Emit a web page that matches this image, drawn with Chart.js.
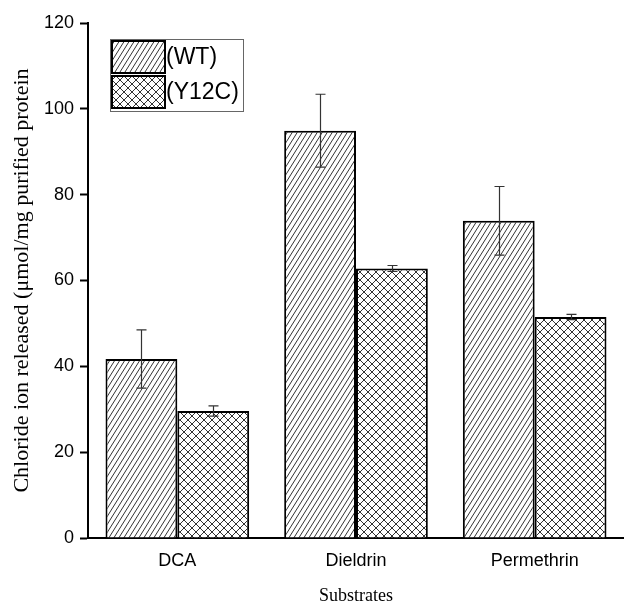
<!DOCTYPE html>
<html lang="en">
<head>
  <meta charset="UTF-8">
  <title>Chloride ion released</title>
  <script src="https://cdn.jsdelivr.net/npm/chart.js"></script>
  <style>
    html, body { margin: 0; padding: 0; background: #fff; }
    #wrap { width: 624px; height: 607px; }
  </style>
</head>
<body>
  <div id="wrap"><canvas id="chart" width="624" height="607"></canvas></div>

  <script>
    const substrates = ["DCA", "Dieldrin", "Permethrin"];
    const seriesNames = ["(WT)", "(Y12C)"];
    const wtValues = [41.7, 94.9, 73.9];
    const wtErrors = [6.8, 8.5, 8.0];
    const y12cValues = [29.6, 62.8, 51.5];
    const y12cErrors = [1.2, 0.7, 0.6];
    const yTicks = [0, 20, 40, 60, 80, 100, 120];

    const sans = "Arial, 'Liberation Sans', sans-serif";
    const serif = "'Times New Roman', 'Liberation Serif', serif";

    // hatch fills
    function diagonalPattern() {
      const c = document.createElement("canvas");
      const w = 5, h = 8;
      c.width = w; c.height = h;
      const g = c.getContext("2d");
      g.fillStyle = "#fff";
      g.fillRect(0, 0, w, h);
      g.strokeStyle = "#333";
      g.lineWidth = 1;
      for (const dx of [-w, 0, w]) {
        g.beginPath();
        g.moveTo(dx, h);
        g.lineTo(dx + w, 0);
        g.stroke();
      }
      return g.createPattern(c, "repeat");
    }

    function crossPattern() {
      const c = document.createElement("canvas");
      const s = 8;
      c.width = s; c.height = s;
      const g = c.getContext("2d");
      g.fillStyle = "#fff";
      g.fillRect(0, 0, s, s);
      g.strokeStyle = "#333";
      g.lineWidth = 1;
      for (const dx of [-s, 0, s]) {
        g.beginPath();
        g.moveTo(dx, s); g.lineTo(dx + s, 0);
        g.moveTo(dx, 0); g.lineTo(dx + s, s);
        g.stroke();
      }
      return g.createPattern(c, "repeat");
    }

    const ctx = document.getElementById("chart").getContext("2d");
    const fills = [diagonalPattern(), crossPattern()];
    const errors = [wtErrors, y12cErrors];

    const errorBars = {
      id: "errorBars",
      afterDatasetsDraw(chart) {
        const g = chart.ctx;
        const y = chart.scales.y;
        g.save();
        g.strokeStyle = "#333";
        g.lineWidth = 1.2;
        chart.data.datasets.forEach((ds, i) => {
          chart.getDatasetMeta(i).data.forEach((bar, j) => {
            const v = ds.data[j], e = errors[i][j];
            const x = Math.round(bar.x) + 0.5;
            const top = y.getPixelForValue(v + e);
            const bot = y.getPixelForValue(v - e);
            g.beginPath();
            g.moveTo(x, top); g.lineTo(x, bot);
            g.moveTo(x - 5, top); g.lineTo(x + 5, top);
            g.moveTo(x - 5, bot); g.lineTo(x + 5, bot);
            g.stroke();
          });
        });
        g.restore();
      }
    };

    const boxLegend = {
      id: "boxLegend",
      afterDraw(chart) {
        const g = chart.ctx;
        g.save();
        g.strokeStyle = "#666";
        g.lineWidth = 1;
        g.strokeRect(110.5, 39.5, 133, 72);
        g.font = "23px " + sans;
        g.textBaseline = "middle";
        chart.data.datasets.forEach((ds, i) => {
          const top = 41 + i * 35;
          g.fillStyle = ds.backgroundColor;
          g.fillRect(112, top, 53, 32);
          g.strokeStyle = "#000";
          g.lineWidth = 2;
          g.strokeRect(112, top, 53, 32);
          g.fillStyle = "#000";
          g.fillText(ds.label, 166, top + 17);
        });
        g.restore();
      }
    };

    new Chart(ctx, {
      type: "bar",
      data: {
        labels: substrates,
        datasets: [
          { label: seriesNames[0], data: wtValues, backgroundColor: fills[0] },
          { label: seriesNames[1], data: y12cValues, backgroundColor: fills[1] }
        ]
      },
      options: {
        responsive: false,
        animation: false,
        layout: { padding: { top: 23, right: 0, left: 0, bottom: 0 } },
        datasets: {
          bar: {
            borderColor: "#000",
            borderWidth: 2,
            categoryPercentage: 0.804,
            barPercentage: 1.0
          }
        },
        plugins: {
          legend: { display: false },
          tooltip: { enabled: false }
        },
        scales: {
          x: {
            grid: { display: false, drawTicks: false },
            border: { color: "#000", width: 2 },
            ticks: {
              color: "#000",
              padding: 12,
              font: { family: sans, size: 18 }
            },
            title: {
              display: true,
              text: "Substrates",
              color: "#000",
              padding: { top: 0, bottom: 0 },
              font: { family: serif, size: 18 }
            },
            afterFit(scale) { scale.height = 69; }
          },
          y: {
            min: 0,
            max: 120,
            afterBuildTicks(scale) { scale.ticks = yTicks.map(v => ({ value: v })); },
            grid: { drawOnChartArea: false, tickLength: 8, tickWidth: 2, color: "#000" },
            border: { color: "#000", width: 2 },
            ticks: {
              color: "#000",
              padding: 6,
              font: { family: sans, size: 18 }
            },
            title: {
              display: true,
              text: "Chloride ion released (μmol/mg purified protein",
              color: "#000",
              padding: { top: 9, bottom: 0 },
              font: { family: serif, size: 22 }
            },
            afterFit(scale) { scale.width = 88; }
          }
        }
      },
      plugins: [errorBars, boxLegend]
    });
  </script>
</body>
</html>
